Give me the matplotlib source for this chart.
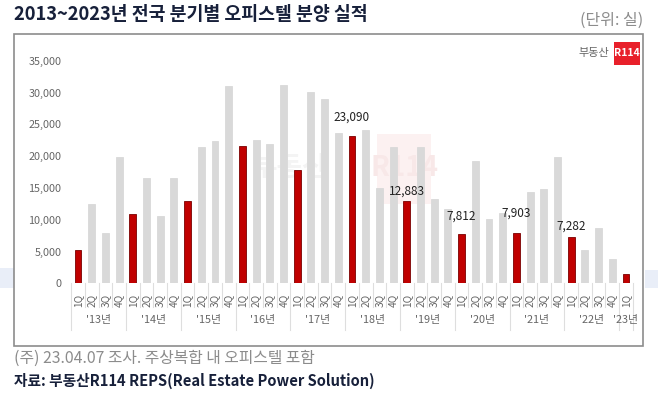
import matplotlib
matplotlib.use('Agg')
import matplotlib.pyplot as plt
from matplotlib.patches import Rectangle

plt.rcParams['font.family'] = ['Noto Sans CJK KR', 'DejaVu Sans']

# 분기별 오피스텔 분양 실적 (실)
years = ["'13년", "'14년", "'15년", "'16년", "'17년", "'18년", "'19년",
         "'20년", "'21년", "'22년", "'23년"]
quarters = ['1Q', '2Q', '3Q', '4Q']
values = [5240, 12420, 7860, 19860,
          10900, 16610, 10590, 16610,
          13000, 21480, 22430, 31020,
          21590, 22530, 21900, 31180,
          17870, 30030, 28930, 23580,
          23090, 24100, 14930, 21480,
          12883, 21380, 13200, 11630,
          7812, 19280, 10170, 11060,
          7903, 14360, 14830, 19860,
          7282, 5190, 8700, 3770,
          1470]
labelled = {20: '23,090', 24: '12,883', 28: '7,812', 32: '7,903', 36: '7,282'}
label_gap = {20: 9, 24: 2.5, 28: 8, 32: 9.5, 36: 3}   # 라벨 위치 보정, pt

n = len(values)
qlabels = [quarters[i % 4] for i in range(n)]
colors = ['#C00000' if i % 4 == 0 else '#D9D9D9' for i in range(n)]
edges = ['#7a0000' if i % 4 == 0 else '#D9D9D9' for i in range(n)]

fig = plt.figure(figsize=(6.58, 4.0), dpi=100)
W, H = 658.0, 400.0

# 배경 장식 (연한 파란 띠)
fig.patches.append(Rectangle((0, 1 - 288 / H), 14 / W, 20 / H, transform=fig.transFigure,
                             facecolor='#e9eef8', edgecolor='none', zorder=0))
fig.patches.append(Rectangle((645 / W, 1 - 288 / H), 13 / W, 18 / H, transform=fig.transFigure,
                             facecolor='#e9eef8', edgecolor='none', zorder=0))
# 차트 테두리
fig.patches.append(Rectangle((14 / W, 1 - 346 / H), 629 / W, 312 / H, transform=fig.transFigure,
                             facecolor='white', edgecolor='#8c8c8c', linewidth=1.2, zorder=1))

ax = fig.add_axes([71.15 / W, 1 - 283.3 / H, 561.7 / W, 222.6 / H])
ax.set_facecolor('none')
ax.set_zorder(2)

# 워터마크 (아주 옅게)
ax.add_patch(Rectangle((21.8, 12400), 4.0, 11000, facecolor='#fcf1f1', edgecolor='none', zorder=0))
ax.text(15.5, 18200, '부동산', fontsize=20, color='#f4f4f4', ha='center', va='center',
        fontweight='bold', zorder=0)
ax.text(23.8, 18200, 'R114', fontsize=20, color='#f8e8e8', ha='center', va='center',
        fontweight='bold', zorder=0)

x = list(range(n))
ax.bar(x, values, width=0.5, color=colors, edgecolor=edges, linewidth=0.6, zorder=2)

for i, txt in labelled.items():
    ax.annotate(txt, (i, values[i]), xytext=(0, label_gap[i]), textcoords='offset points',
                ha='center', va='bottom', fontsize=8.5, color='#222222', zorder=3)

ax.set_xlim(-0.5, n - 0.5)
ax.set_ylim(0, 35000)
ax.set_yticks(range(0, 35001, 5000))
ax.set_yticklabels([f'{v:,}' for v in range(0, 35001, 5000)], fontsize=7.8, color='#666666')
ax.tick_params(axis='y', length=0, pad=7)
ax.set_xticks([])
for s in ax.spines.values():
    s.set_visible(False)

# 다단 카테고리 축
tr = ax.get_xaxis_transform()
for i in range(n):
    ax.text(i, -0.075, qlabels[i], transform=tr, rotation=90, ha='center', va='center',
            fontsize=7.3, color='#666666')
for i in range(n + 1):
    b = i - 0.5
    if i % 4 == 0 or i == n:
        ax.plot([b, b], [0, -0.21], transform=tr, color='#dedede', linewidth=0.8, clip_on=False)
    else:
        ax.plot([b, b], [0, -0.107], transform=tr, color='#dedede', linewidth=0.8, clip_on=False)
for k, y in enumerate(years):
    start = k * 4
    end = min(start + 3, n - 1)
    ax.text((start + end) / 2, -0.165, y, transform=tr, ha='center', va='center',
            fontsize=7.8, color='#666666')

# 제목 및 주석
fig.text(14 / W, 1 - 15 / H, '2013~2023년 전국 분기별 오피스텔 분양 실적', fontsize=13.2,
         fontweight='bold', color='#17203a', ha='left', va='center')
fig.text(643 / W, 1 - 20 / H, '(단위: 실)', fontsize=11.5, color='#8c8c8c', ha='right', va='center')
fig.text(14 / W, 1 - 358 / H, '(주) 23.04.07 조사. 주상복합 내 오피스텔 포함', fontsize=11.4,
         color='#8c8c8c', ha='left', va='center')
fig.text(14 / W, 1 - 381 / H, '자료: 부동산R114 REPS(Real Estate Power Solution)', fontsize=10.6,
         fontweight='bold', color='#17203a', ha='left', va='center')

# 로고
fig.text(609 / W, 1 - 53 / H, '부동산', fontsize=8, color='#666666', ha='right', va='center')
fig.patches.append(Rectangle((614 / W, 1 - 65 / H), 26 / W, 23 / H, transform=fig.transFigure,
                             facecolor='#e8202a', edgecolor='none', zorder=3))
fig.text(627 / W, 1 - 53.5 / H, 'R114', fontsize=7.5, color='white', ha='center', va='center',
         fontweight='bold', zorder=4)

fig.savefig('out.png', dpi=100)
